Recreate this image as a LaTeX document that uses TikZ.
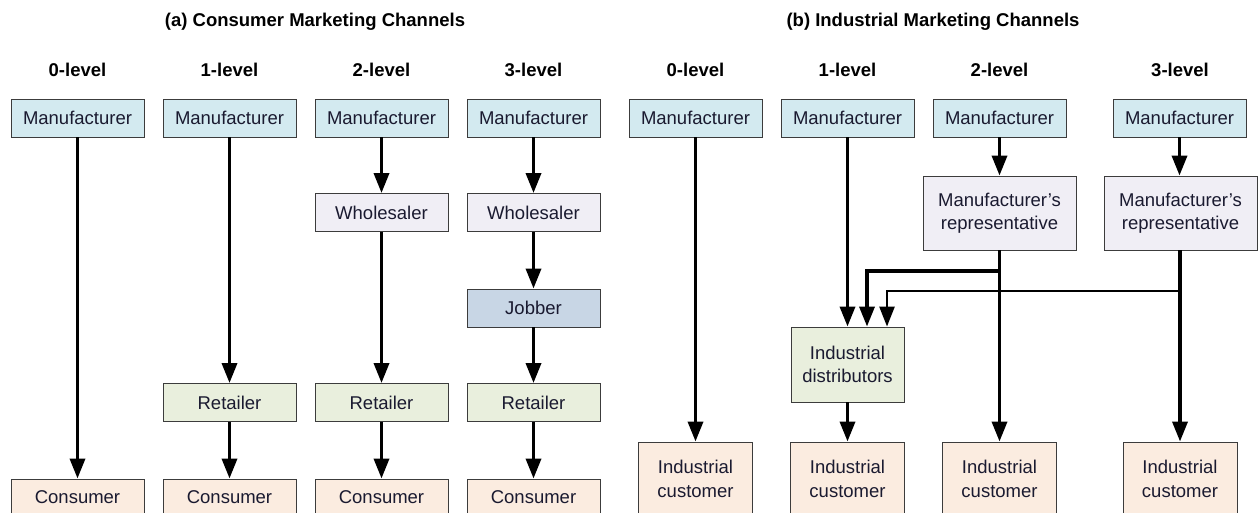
\documentclass[tikz,border=0pt]{standalone}
\usepackage{fontspec}
\setmainfont{Liberation Sans}
\usetikzlibrary{arrows.meta}
\definecolor{mfgfill}{HTML}{D3EAF0}
\definecolor{midfill}{HTML}{F0EEF5}
\definecolor{jobfill}{HTML}{C8D6E5}
\definecolor{retfill}{HTML}{E9EFDD}
\definecolor{endfill}{HTML}{FBECE0}
\definecolor{boxline}{HTML}{3C3C3C}
\definecolor{boxtext}{HTML}{1A1A30}
\tikzset{
  box/.style={draw=boxline, line width=0.9pt, inner sep=0pt, align=center,
    text=boxtext, font=\fontsize{18.5}{23.5}\selectfont,
    minimum width=133pt, minimum height=38pt},
  mfg/.style={box, fill=mfgfill},
  whole/.style={box, fill=midfill},
  jobber/.style={box, fill=jobfill},
  retail/.style={box, fill=retfill},
  consumer/.style={box, fill=endfill, minimum height=36pt},
  rep/.style={box, fill=midfill, minimum width=153pt, minimum height=74pt},
  distrib/.style={box, fill=retfill, minimum width=113pt, minimum height=75pt},
  indcust/.style={box, fill=endfill, minimum width=114pt, minimum height=74pt},
  title/.style={font=\bfseries\fontsize{18.5}{22}\selectfont},
  level/.style={font=\bfseries\fontsize{18.5}{22}\selectfont},
  conn/.style={line width=3.5pt, -{Triangle[width=15pt,length=20pt]}},
  thinconn/.style={line width=2.6pt, -{Triangle[width=15pt,length=20pt]}}
}
\begin{document}
\begin{tikzpicture}[x=1pt,y=-1pt]
\useasboundingbox (0,0) rectangle (1260,513);
\clip (0,0) rectangle (1260,513);

% ---------- (a) consumer channels ----------
\node[title] (ta) at (315,22) {(a) Consumer Marketing Channels};
\node[level] (la0) at (77.5,70) {0-level};
\node[level] (la1) at (229.5,70) {1-level};
\node[level] (la2) at (381.5,70) {2-level};
\node[level] (la3) at (533.5,70) {3-level};

% 0-level
\node[mfg] (am0) at (77.5,118) {Manufacturer};
\node[consumer] (ac0) at (77.5,497) {Consumer};
\draw[conn] (am0) -- (ac0);

% 1-level
\node[mfg] (am1) at (229.5,118) {Manufacturer};
\node[retail] (ar1) at (229.5,402.5) {Retailer};
\node[consumer] (ac1) at (229.5,497) {Consumer};
\draw[conn] (am1) -- (ar1);
\draw[conn] (ar1) -- (ac1);

% 2-level
\node[mfg] (am2) at (381.5,118) {Manufacturer};
\node[whole] (aw2) at (381.5,212.5) {Wholesaler};
\node[retail] (ar2) at (381.5,402.5) {Retailer};
\node[consumer] (ac2) at (381.5,497) {Consumer};
\draw[conn] (am2) -- (aw2);
\draw[conn] (aw2) -- (ar2);
\draw[conn] (ar2) -- (ac2);

% 3-level
\node[mfg] (am3) at (533.5,118) {Manufacturer};
\node[whole] (aw3) at (533.5,212.5) {Wholesaler};
\node[jobber] (aj3) at (533.5,308) {Jobber};
\node[retail] (ar3) at (533.5,402.5) {Retailer};
\node[consumer] (ac3) at (533.5,497) {Consumer};
\draw[conn] (am3) -- (aw3);
\draw[conn] (aw3) -- (aj3);
\draw[conn] (aj3) -- (ar3);
\draw[conn] (ar3) -- (ac3);

% ---------- (b) industrial channels ----------
\node[title] (tb) at (933,22) {(b) Industrial Marketing Channels};
\node[level] (lb0) at (695.5,70) {0-level};
\node[level] (lb1) at (847.5,70) {1-level};
\node[level] (lb2) at (999.5,70) {2-level};
\node[level] (lb3) at (1180,70) {3-level};

% 0-level
\node[mfg] (bm0) at (695.5,118) {Manufacturer};
\node[indcust] (bc0) at (695.5,479) {Industrial\\customer};
\draw[conn] (bm0) -- (bc0);

% 1-level
\node[mfg] (bm1) at (847.5,118) {Manufacturer};
\node[distrib] (bd1) at (847.5,364.5) {Industrial\\distributors};
\node[indcust] (bc1) at (847.5,479) {Industrial\\customer};
\draw[conn] (bm1) -- (bd1);
\draw[conn] (bd1) -- (bc1);

% 2-level
\node[mfg] (bm2) at (999.5,118) {Manufacturer};
\node[rep] (br2) at (999.5,213) {Manufacturer’s\\representative};
\node[indcust] (bc2) at (999.5,479) {Industrial\\customer};
\draw[conn] (bm2) -- (br2);
\draw[conn] (br2) -- (bc2);
\coordinate (k2) at (999.5,271);
\draw[conn] (k2) -| ([xshift=19.5pt]bd1.north);

% 3-level
\node[mfg] (bm3) at (1179.5,118) {Manufacturer};
\node[rep] (br3) at (1180.5,213) {Manufacturer’s\\representative};
\node[indcust] (bc3) at (1180,479) {Industrial\\customer};
\draw[conn] (bm3) -- (bm3 |- br3.north);
\draw[conn] (br3.south -| bc3) -- (bc3);
\coordinate (k3) at (1180,291);
\draw[thinconn] (k3) -| ([xshift=39.5pt]bd1.north);
\end{tikzpicture}
\end{document}
